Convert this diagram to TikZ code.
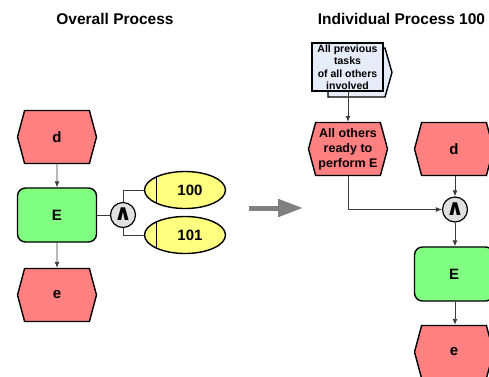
\documentclass[tikz,border=0pt]{standalone}
\usepackage{fontspec}
\setmainfont{Liberation Sans}
\newfontfamily\opfont{DejaVu Sans}
\usetikzlibrary{shapes.geometric,shapes.symbols,arrows.meta,calc}

\definecolor{evred}{HTML}{FF8080}
\definecolor{fngreen}{HTML}{80FF80}
\definecolor{orgyellow}{HTML}{FFFF80}
\definecolor{opgray}{HTML}{E0E0E0}
\definecolor{docblue}{HTML}{E6ECF8}
\definecolor{linegray}{HTML}{3A3A3A}
\definecolor{bigarrow}{HTML}{808080}

\tikzset{
  evt/.style={signal, signal to=west and east, signal pointer angle=150,
    draw=black, line width=1.4pt, fill=evred, minimum width=79pt,
    minimum height=53pt, inner sep=0pt, align=center,
    font=\bfseries\fontsize{15}{15}\selectfont},
  fnc/.style={rectangle, rounded corners=8pt, draw=black, line width=1.4pt,
    fill=fngreen, minimum width=79pt, minimum height=54pt, inner sep=0pt,
    font=\bfseries\fontsize{15}{15}\selectfont},
  opr/.style={circle, draw=black, line width=1.2pt, fill=opgray,
    minimum size=25pt, inner sep=0pt,
    font=\opfont\bfseries\fontsize{22}{22}\selectfont},
  org/.style={ellipse, draw=black, line width=1.4pt, fill=orgyellow,
    minimum width=81pt, minimum height=37pt, inner sep=0pt,
    font=\bfseries\fontsize{15}{15}\selectfont},
  doc/.style={rectangle, draw=black, line width=1.6pt, fill=docblue,
    minimum width=71pt, minimum height=48pt, inner sep=0pt, align=center,
    font=\bfseries\fontsize{10.5}{12.5}\selectfont},
  ttl/.style={font=\bfseries\fontsize{15.5}{16}\selectfont},
  flow/.style={draw=linegray, line width=0.9pt, -{Latex[length=6pt,width=5pt]}},
  link/.style={draw=linegray, line width=0.9pt},
  orgbar/.style={draw=black, line width=1.4pt},
}

\begin{document}
\begin{tikzpicture}[x=1pt, y=-1pt]
  \useasboundingbox[fill=white] (0,0) rectangle (489,376);

  % ---- left: overall process ----
  \node[ttl] (t1) at (115,19) {Overall Process};
  \node[evt] (d1) at (57,137) {d};
  \node[fnc] (E1) at (57,215) {E};
  \node[evt] (e1) at (57,295) {e};
  \node[opr] (and1) at (123,215) {\raisebox{1pt}{∧}};
  \node[org] (o100) at (185,190) {\hspace{10pt}100};
  \node[org] (o101) at (185,235) {\hspace{10pt}101};
  \draw[orgbar] ($(o100.center)+(-28.5,-13)$) -- ($(o100.center)+(-28.5,13)$);
  \draw[orgbar] ($(o101.center)+(-28.5,-13)$) -- ($(o101.center)+(-28.5,13)$);

  \draw[flow] (d1) -- (E1);
  \draw[flow] (E1) -- (e1);
  \draw[link] (E1.east) -- (and1.west);
  \draw[link] (and1.north) |- (o100.west);
  \draw[link] (and1.south) |- (o101.west);

  % ---- transition arrow ----
  \coordinate (ga) at (249,208);
  \coordinate (gb) at (303,208);
  \draw[bigarrow, line width=5pt, -{Triangle[length=25pt,width=17pt]}] (ga) -- (gb);

  % ---- right: individual process 100 ----
  \node[ttl] (t2) at (401.5,19) {Individual Process 100};

  % process interface: back pentagon, then front sheet
  \filldraw[fill=docblue, draw=black, line width=1.4pt]
    (328,48) -- (385,48) -- (392,72.5) -- (385,97) -- (328,97) -- cycle;
  \node[doc] (prev) at (347.5,67) {All previous\\tasks\\of all others\\involved};

  \node[evt, font=\bfseries\fontsize{12.5}{15}\selectfont] (rdy) at (348,149)
    {All others\\ready to\\perform E};
  \node[evt] (d2) at (454,149) {d};
  \node[opr] (and2) at (455,209.5) {\raisebox{1pt}{∧}};
  \node[fnc] (E2) at (454,274) {E};
  \node[evt] (e2) at (454,352) {e};

  \draw[flow] (prev.south -| rdy.north) -- (rdy.north);
  \draw[flow] (rdy.south) |- (and2.west);
  \draw[flow] (d2.south -| and2.north) -- (and2.north);
  \draw[flow] (and2.south) -- (and2.south |- E2.north);
  \draw[flow] (E2.south -| and2.south) -- (e2.north -| and2.south);
\end{tikzpicture}
\end{document}
